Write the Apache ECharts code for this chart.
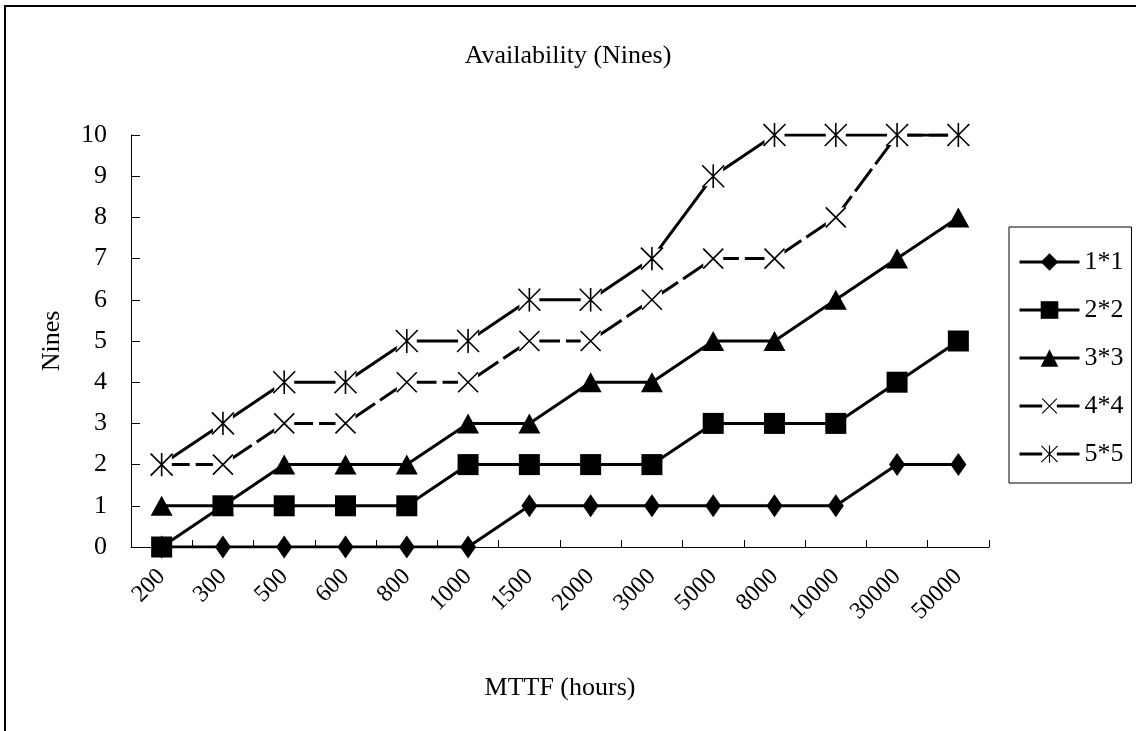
<!DOCTYPE html>
<html>
<head>
<meta charset="utf-8">
<script src="https://cdn.jsdelivr.net/npm/echarts@6/dist/echarts.min.js"></script>
<style>
html, body { margin: 0; padding: 0; background: #fff; }
#chart { width: 1136px; height: 731px; }
</style>
</head>
<body>
<div id="chart"></div>
<script>
// MTTF categories (hours)
var mttf = ['200', '300', '500', '600', '800', '1000', '1500', '2000', '3000', '5000', '8000', '10000', '30000', '50000'];
// availability in nines
var nines1x1 = [0, 0, 0, 0, 0, 0, 1, 1, 1, 1, 1, 1, 2, 2];
var nines2x2 = [0, 1, 1, 1, 1, 2, 2, 2, 2, 3, 3, 3, 4, 5];
var nines3x3 = [1, 1, 2, 2, 2, 3, 3, 4, 4, 5, 5, 6, 7, 8];
var nines4x4 = [2, 2, 3, 3, 4, 4, 5, 5, 6, 7, 7, 8, 10, 10];
var nines5x5 = [2, 3, 4, 4, 5, 5, 6, 6, 7, 9, 10, 10, 10, 10];

var FONT = 'Liberation Serif';

// x and asterisk markers with a white background (like excel)
function svgSymbol(paths) {
	var svg = '<svg xmlns="http://www.w3.org/2000/svg" width="24" height="24" viewBox="0 0 24 24">' +
		'<rect x="2" y="2" width="20" height="20" fill="#ffffff"/>' +
		'<path d="' + paths + '" stroke="#000000" stroke-width="1.6" fill="none"/></svg>';
	return 'image://data:image/svg+xml;charset=utf-8,' + encodeURIComponent(svg);
}
var crossSym = svgSymbol('M2,2L22,22M22,2L2,22');
var starSym = svgSymbol('M1,1L23,23M23,1L1,23M12,0L12,24');

function lineSeries(name, data, symbol, size, dashed) {
	return {
		name: name,
		type: 'line',
		data: data,
		symbol: symbol,
		symbolSize: size,
		showAllSymbol: true,
		animation: false,
		itemStyle: { color: '#000' },
		lineStyle: { color: '#000', width: 3, type: dashed ? [28, 6] : 'solid' }
	};
}

var myChart = echarts.init(document.getElementById('chart'));

var option = {
	backgroundColor: '#fff',
	animation: false,
	textStyle: { fontFamily: FONT, color: '#000' },
	graphic: [{
		type: 'rect',
		shape: { x: 5, y: 6, width: 1300, height: 900 },
		style: { fill: 'none', stroke: '#000', lineWidth: 2 },
		silent: true
	}],
	title: {
		text: 'Availability (Nines)',
		left: 'center',
		top: 38,
		textStyle: { fontFamily: FONT, fontSize: 26, fontWeight: 'normal', color: '#000' }
	},
	legend: {
		orient: 'vertical',
		left: 1009,
		top: 227,
		padding: [22, 8, 16, 9],
		itemWidth: 60,
		itemHeight: 22,
		itemGap: 22,
		borderColor: '#000',
		borderWidth: 1,
		lineStyle: { width: 3 },
		textStyle: { fontFamily: FONT, fontSize: 26, color: '#000', lineHeight: 22 },
		data: ['1*1', '2*2', '3*3', '4*4', '5*5']
	},
	grid: {
		left: 131,
		right: 147,
		top: 135,
		bottom: 184,
		containLabel: false,
		outerBoundsMode: 'none'
	},
	xAxis: {
		type: 'category',
		data: mttf,
		boundaryGap: true,
		name: 'MTTF (hours)',
		nameLocation: 'middle',
		nameGap: 128,
		nameTextStyle: { fontFamily: FONT, fontSize: 26, color: '#000' },
		axisLine: { show: true, lineStyle: { color: '#000', width: 1 } },
		axisTick: { show: true, inside: true, length: 7, lineStyle: { color: '#000' } },
		axisLabel: { rotate: 45, interval: 0, margin: 26, fontFamily: FONT, fontSize: 24, color: '#000' },
		splitLine: { show: false }
	},
	yAxis: {
		type: 'value',
		min: 0,
		max: 10,
		interval: 1,
		name: 'Nines',
		nameLocation: 'middle',
		nameGap: 66,
		nameTextStyle: { fontFamily: FONT, fontSize: 26, color: '#000' },
		axisLine: { show: true, lineStyle: { color: '#000', width: 1 } },
		axisTick: { show: true, inside: true, length: 9, lineStyle: { color: '#000' } },
		axisLabel: { margin: 24, fontFamily: FONT, fontSize: 26, color: '#000' },
		splitLine: { show: false }
	},
	series: [
		lineSeries('1*1', nines1x1, 'diamond', [16, 23], false),
		lineSeries('2*2', nines2x2, 'rect', 21, false),
		lineSeries('3*3', nines3x3, 'triangle', [22, 20], false),
		lineSeries('4*4', nines4x4, crossSym, 24, true),
		lineSeries('5*5', nines5x5, starSym, 24, false)
	]
};

myChart.setOption(option);
</script>
</body>
</html>
